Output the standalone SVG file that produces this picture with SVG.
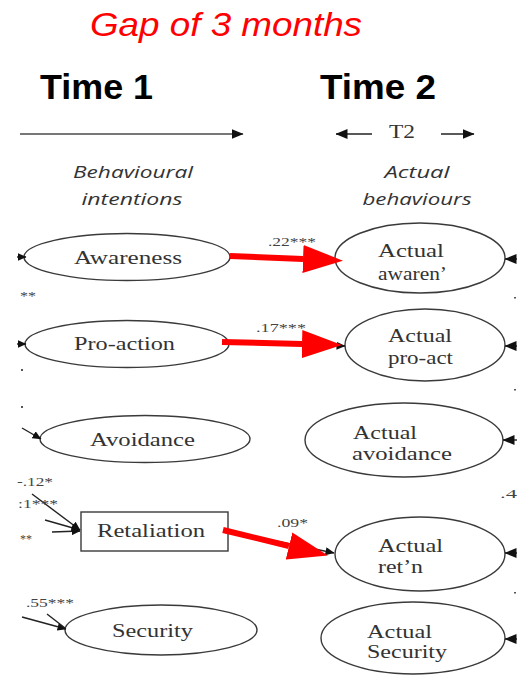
<svg xmlns="http://www.w3.org/2000/svg" width="517" height="675" viewBox="0 0 517 675">
<defs>
<style>
.node{fill:#fff;stroke:#3a3a3a;stroke-width:1.4}
.lbl{font-family:"Liberation Serif",serif;font-size:18px;fill:#333}
.lbl2{font-family:"Liberation Serif",serif;font-size:19px;fill:#333}
.coef{font-family:"Liberation Serif",serif;font-size:12px;fill:#444}
.hdr{font-family:"Open Sans","Liberation Sans",sans-serif;font-style:italic;font-size:16px;fill:#333}
.time{font-family:"Liberation Sans",Arial,sans-serif;font-weight:bold;font-size:35px;fill:#000}
.blk{stroke:#222;stroke-width:1.4;fill:none}
.red{stroke:#f00;stroke-width:6;fill:none}
.dot{fill:#555}
</style>
<marker id="ah" viewBox="0 0 9 8" refX="8.5" refY="4" markerWidth="9" markerHeight="8" markerUnits="userSpaceOnUse" orient="auto">
<path d="M0,0 L9,4 L0,8 z" fill="#111"/>
</marker>
<marker id="ahs" viewBox="0 0 12 10" refX="11.5" refY="5" markerWidth="12" markerHeight="10" markerUnits="userSpaceOnUse" orient="auto">
<path d="M0,0 L12,5 L0,10 z" fill="#111"/>
</marker>
<marker id="rh" viewBox="0 0 40 28" refX="0" refY="14" markerWidth="40" markerHeight="28" markerUnits="userSpaceOnUse" orient="auto">
<path d="M0,0 L40,14 L0,28 z" fill="#f00"/>
</marker>
</defs>
<rect width="517" height="675" fill="#fff"/>

<g id="titles">
<text x="90" y="36" font-family="Liberation Sans,Arial,sans-serif" font-style="italic" font-size="33" fill="#f00" textLength="272" lengthAdjust="spacingAndGlyphs">Gap of 3 months</text>
<text class="time" x="40" y="99" textLength="113" lengthAdjust="spacingAndGlyphs">Time 1</text>
<text class="time" x="320" y="99" textLength="116" lengthAdjust="spacingAndGlyphs">Time 2</text>
</g>

<g id="headers">
<line x1="20" y1="134" x2="243" y2="134" stroke="#777" stroke-width="2.2" marker-end="url(#ahs)"/>
<text class="hdr" x="133" y="178" text-anchor="middle" textLength="120" lengthAdjust="spacingAndGlyphs">Behavioural</text>
<text class="hdr" x="132" y="205" text-anchor="middle" textLength="101" lengthAdjust="spacingAndGlyphs">intentions</text>
<line x1="372" y1="134" x2="336" y2="134" class="blk" marker-end="url(#ahs)"/>
<text x="389" y="138" font-family="Liberation Serif,serif" font-size="18" fill="#333" textLength="26" lengthAdjust="spacingAndGlyphs">T2</text>
<line x1="441" y1="134" x2="474" y2="134" class="blk" marker-end="url(#ahs)"/>
<text class="hdr" x="417" y="178" text-anchor="middle" textLength="65" lengthAdjust="spacingAndGlyphs">Actual</text>
<text class="hdr" x="417" y="205" text-anchor="middle" textLength="109" lengthAdjust="spacingAndGlyphs">behaviours</text>
</g>

<g id="awareness"><ellipse class="node" cx="127" cy="257" rx="103" ry="23.5"/><text class="lbl" x="74" y="264" textLength="108" lengthAdjust="spacingAndGlyphs">Awareness</text></g>
<g id="proaction"><ellipse class="node" cx="127" cy="344" rx="102" ry="23.5"/><text class="lbl" x="74" y="350" textLength="101" lengthAdjust="spacingAndGlyphs">Pro-action</text></g>
<g id="avoidance"><ellipse class="node" cx="145" cy="439" rx="105" ry="23.5"/><text class="lbl" x="90" y="446" textLength="105" lengthAdjust="spacingAndGlyphs">Avoidance</text></g>
<g id="retaliation"><rect class="node" x="81" y="512" width="147" height="39"/><text class="lbl" x="97" y="537" textLength="108" lengthAdjust="spacingAndGlyphs">Retaliation</text></g>
<g id="security"><ellipse class="node" cx="161" cy="630" rx="96" ry="25"/><text class="lbl" x="112" y="637" textLength="81" lengthAdjust="spacingAndGlyphs">Security</text></g>

<g id="actual-awareness"><ellipse class="node" cx="420" cy="258" rx="85" ry="35"/><text class="lbl2" x="378" y="257" textLength="66" lengthAdjust="spacingAndGlyphs">Actual</text><text class="lbl2" x="378" y="280" textLength="69" lengthAdjust="spacingAndGlyphs">awaren’</text></g>
<g id="actual-proact"><ellipse class="node" cx="425" cy="345" rx="80" ry="36"/><text class="lbl2" x="388" y="342" textLength="64" lengthAdjust="spacingAndGlyphs">Actual</text><text class="lbl2" x="388" y="364" textLength="65" lengthAdjust="spacingAndGlyphs">pro-act</text></g>
<g id="actual-avoidance"><ellipse class="node" cx="404" cy="440" rx="99" ry="37"/><text class="lbl2" x="353" y="439" textLength="64" lengthAdjust="spacingAndGlyphs">Actual</text><text class="lbl2" x="352" y="460" textLength="100" lengthAdjust="spacingAndGlyphs">avoidance</text></g>
<g id="actual-retn"><ellipse class="node" cx="420" cy="554" rx="85" ry="37"/><text class="lbl2" x="378" y="552" textLength="65" lengthAdjust="spacingAndGlyphs">Actual</text><text class="lbl2" x="378" y="573" textLength="45" lengthAdjust="spacingAndGlyphs">ret’n</text></g>
<g id="actual-security"><ellipse class="node" cx="413" cy="638" rx="92" ry="36"/><text class="lbl2" x="367" y="638" textLength="65" lengthAdjust="spacingAndGlyphs">Actual</text><text class="lbl2" x="367" y="658" textLength="80" lengthAdjust="spacingAndGlyphs">Security</text></g>

<g id="connectors">
<line class="blk" x1="230" y1="257" x2="335" y2="259" marker-end="url(#ah)"/>
<line class="blk" x1="228" y1="343" x2="345" y2="346" marker-end="url(#ah)"/>
<line class="blk" x1="228" y1="531" x2="334" y2="553" marker-end="url(#ah)"/>
<line class="red" x1="230" y1="256" x2="303" y2="259" marker-end="url(#rh)"/>
<line class="red" x1="222" y1="342" x2="302" y2="344" marker-end="url(#rh)"/>
<line class="red" x1="223" y1="530" x2="289" y2="546" marker-end="url(#rh)"/>

<line class="blk" x1="17" y1="257" x2="26" y2="257" marker-end="url(#ah)"/>
<line class="blk" x1="17" y1="344" x2="26" y2="344" marker-end="url(#ah)"/>
<line class="blk" x1="22" y1="428" x2="41" y2="439" marker-end="url(#ah)"/>
<line class="blk" x1="32" y1="494" x2="80" y2="530" marker-end="url(#ah)"/>
<line class="blk" x1="45" y1="520" x2="80" y2="530" marker-end="url(#ah)"/>
<line class="blk" x1="52" y1="532" x2="80" y2="531" marker-end="url(#ah)"/>
<line class="blk" x1="22" y1="617" x2="66" y2="629" marker-end="url(#ah)"/>
<line class="blk" x1="47" y1="614" x2="65" y2="628"/>

<line class="blk" x1="517" y1="259" x2="505" y2="259" marker-end="url(#ahs)"/>
<line class="blk" x1="517" y1="346" x2="505" y2="346" marker-end="url(#ahs)"/>
<line class="blk" x1="517" y1="440" x2="503" y2="440" marker-end="url(#ahs)"/>
<line class="blk" x1="517" y1="553" x2="505" y2="553" marker-end="url(#ahs)"/>
<line class="blk" x1="517" y1="639" x2="505" y2="639" marker-end="url(#ahs)"/>
</g>

<g id="coefficients">
<text class="coef" x="268" y="246" textLength="48" lengthAdjust="spacingAndGlyphs">.22***</text>
<text class="coef" x="256" y="332" textLength="50" lengthAdjust="spacingAndGlyphs">.17***</text>
<text class="coef" x="277" y="527" textLength="31" lengthAdjust="spacingAndGlyphs">.09*</text>
<text class="coef" x="20" y="300" textLength="16" lengthAdjust="spacingAndGlyphs">**</text>
<text class="coef" x="17" y="486" textLength="36" lengthAdjust="spacingAndGlyphs">-.12*</text>
<text class="coef" x="18" y="508" textLength="40" lengthAdjust="spacingAndGlyphs">:1***</text>
<text class="coef" x="20" y="543" textLength="12" lengthAdjust="spacingAndGlyphs">**</text>
<text class="coef" x="26" y="607" textLength="48" lengthAdjust="spacingAndGlyphs">.55***</text>
<text class="coef" x="500" y="498" textLength="17" lengthAdjust="spacingAndGlyphs">.4</text>
<rect class="dot" x="21" y="369" width="2" height="2"/>
<rect class="dot" x="21" y="406" width="2" height="2"/>
<rect class="dot" x="514" y="297" width="2" height="1.5"/>
<rect class="dot" x="514" y="389" width="2" height="1.5"/>
<rect class="dot" x="514" y="592" width="2" height="1.5"/>
</g>
</svg>
